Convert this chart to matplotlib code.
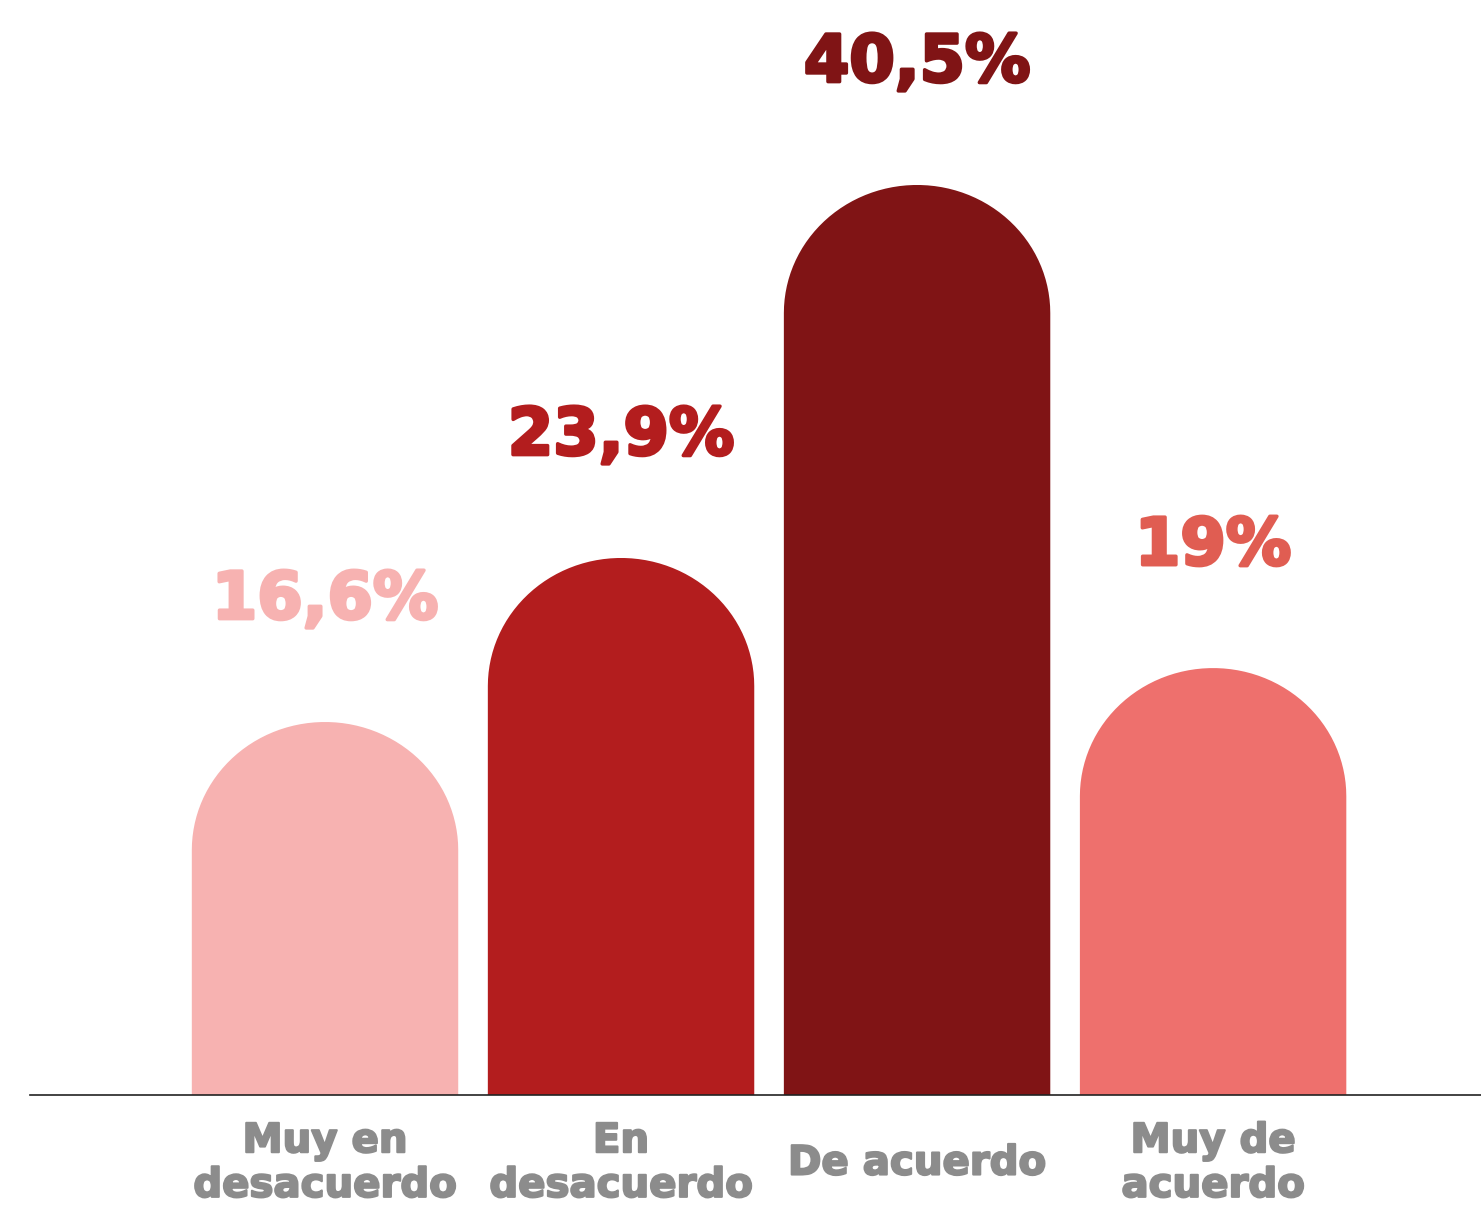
import numpy as np
import matplotlib.pyplot as plt
import matplotlib.patheffects as pe
from matplotlib.path import Path
from matplotlib.patches import PathPatch

# Datos del grafico
categorias = ["Muy en\ndesacuerdo", "En\ndesacuerdo", "De acuerdo", "Muy de\nacuerdo"]
valores = [16.6, 23.9, 40.5, 19.0]
etiquetas = ["16,6%", "23,9%", "40,5%", "19%"]
colores_barra = ["#F7B2B1", "#B31D1E", "#801415", "#EE706D"]
colores_texto = ["#F7B2B1", "#B31D1E", "#801415", "#E05D52"]

fig = plt.figure(figsize=(14.81, 12.07), dpi=100)
ax = fig.add_axes([30 / 1481, 112 / 1207, 1451 / 1481, 1095 / 1207])

ancho = 0.9
radio_y = 5.7  # altura del arco superior, en %


def barra_redonda(x, h, w, ry, color):
    # rectangulo con la parte de arriba en forma de arco (media elipse)
    t = np.linspace(np.pi, 0, 60)
    xs = x + (w / 2) * np.cos(t)
    ys = (h - ry) + ry * np.sin(t)
    verts = [(x - w / 2, 0)] + list(zip(xs, ys)) + [(x + w / 2, 0), (x - w / 2, 0)]
    codes = [Path.MOVETO] + [Path.LINETO] * (len(verts) - 2) + [Path.CLOSEPOLY]
    return PathPatch(Path(verts, codes), facecolor=color, edgecolor="none")


for i, v in enumerate(valores):
    ax.add_patch(barra_redonda(i, v, ancho, radio_y, colores_barra[i]))
    ax.text(i, v + 5.4, etiquetas[i], ha="center", va="center",
            fontsize=47, fontweight="bold", family="DejaVu Sans", color=colores_texto[i],
            path_effects=[pe.withStroke(linewidth=2.5, foreground=colores_texto[i])])
    ax.text(i, -3.05, categorias[i], ha="center", va="center", linespacing=1.15,
            fontsize=29, fontweight="bold", family="DejaVu Sans", color="#8C8C8C",
            path_effects=[pe.withStroke(linewidth=1.5, foreground="#8C8C8C")])

ax.set_xlim(-0.9966, 3.905)
ax.set_ylim(0, 1095 / 22.47)
ax.axhline(0, color="#222222", lw=1.2, clip_on=False)
ax.axis("off")

fig.savefig("out.png", dpi=100)
